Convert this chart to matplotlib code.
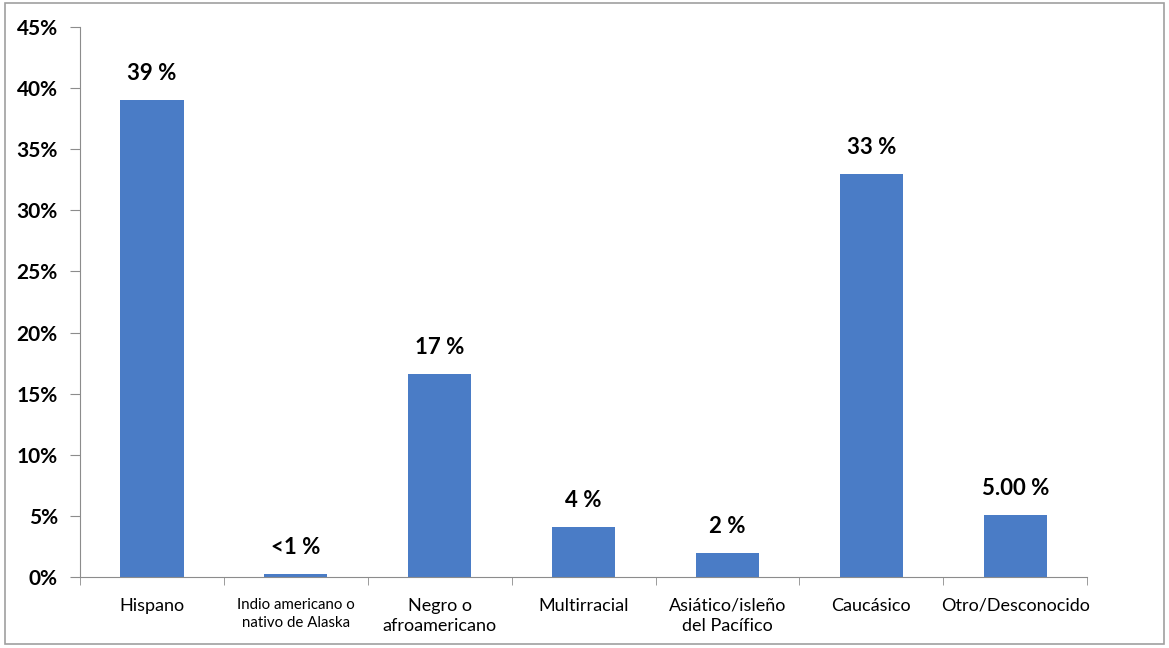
import matplotlib.pyplot as plt
from matplotlib.patches import Rectangle
from matplotlib.ticker import FixedLocator

plt.rcParams['font.family'] = ['Lato', 'DejaVu Sans']

# Data
categories = ['Hispano', 'Indio americano o\nnativo de Alaska', 'Negro o\nafroamericano',
              'Multirracial', 'Asiático/isleño\ndel Pacífico', 'Caucásico', 'Otro/Desconocido']
values = [39.0, 0.25, 16.6, 4.1, 2.0, 33.0, 5.05]
value_labels = ['39 %', '<1 %', '17 %', '4 %', '2 %', '33 %', '5.00 %']
yticks = [0, 5, 10, 15, 20, 25, 30, 35, 40, 45]

fig = plt.figure(figsize=(11.69, 6.48), dpi=100)
ax = fig.add_axes([0.0684, 0.1096, 0.8616, 0.8487])

x = list(range(len(categories)))
ax.bar(x, values, width=0.44, color='#4A7CC6')

ax.set_xlim(-0.5, len(categories) - 0.5)
ax.set_ylim(0, 45)

for xi, v, lab in zip(x, values, value_labels):
    ax.text(xi, v + 1.3, lab, ha='center', va='bottom', fontsize=16, fontweight='bold')

# y axis
ax.set_yticks(yticks)
ax.set_yticklabels([f'{t}%' for t in yticks], fontsize=15, fontweight='bold')
ax.tick_params(axis='y', direction='out', length=7, color='#8c8c8c', pad=9)

# x axis: labels at centers, tick marks between categories
ax.set_xticks(x)
ax.set_xticklabels(categories, fontsize=13, linespacing=1.35)
for lbl in ax.get_xticklabels():
    if lbl.get_text().startswith('Indio'):
        lbl.set_fontsize(10.8)
ax.tick_params(axis='x', length=0, pad=15)
ax.xaxis.set_minor_locator(FixedLocator([i - 0.5 for i in range(len(categories) + 1)]))
ax.tick_params(axis='x', which='minor', direction='out', length=6, color='#8c8c8c')

for side in ['top', 'right']:
    ax.spines[side].set_visible(False)
for side in ['left', 'bottom']:
    ax.spines[side].set_color('#8c8c8c')

# outer border
fig.patches.append(Rectangle((0.004, 0.006), 0.992, 0.99, transform=fig.transFigure,
                             fill=False, edgecolor='#a0a0a0', linewidth=1.2))

plt.savefig('out.png', dpi=100)
